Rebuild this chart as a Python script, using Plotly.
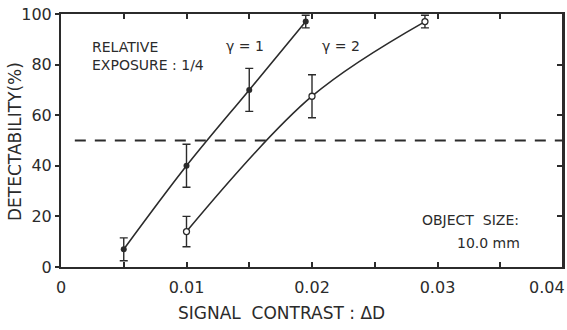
import plotly.graph_objects as go

# Measured detectability vs. signal contrast (relative exposure 1/4, object 10.0 mm)
gamma1_contrast = [0.005, 0.010, 0.015, 0.0195]
gamma1_detect = [7, 40, 70, 97]
gamma1_err = [4.5, 8.5, 8.5, 2.5]

gamma2_contrast = [0.010, 0.020, 0.029]
gamma2_detect = [14, 67.5, 97]
gamma2_err = [6, 8.5, 2.5]

threshold = 50
x_tick_vals = [0, 0.005, 0.01, 0.015, 0.02, 0.025, 0.03, 0.035, 0.04]
x_tick_text = ["0", "", "0.01", "", "0.02", "", "0.03", "", ""]
x_last_label = "0.04"   # drawn flush with the right edge of the page
y_tick_vals = [0, 20, 40, 60, 80, 100]
y_tick_text = ["0", "20", "40", "60", "80", "100"]

INK = "#2b2b2b"
FONT = "DejaVu Sans"
X_RANGE = [0, 0.04]
L, R, T, B = 61, 4, 14, 63
W, H = 567, 330

fig = go.Figure()

# 50 % detection threshold
fig.add_trace(go.Scatter(
    x=[0.0011, 0.04], y=[threshold, threshold], mode="lines",
    line=dict(color=INK, width=1.8, dash="11px,9px"), hoverinfo="skip",
))

fig.add_trace(go.Scatter(
    x=gamma1_contrast, y=gamma1_detect, mode="lines+markers",
    line=dict(color=INK, width=1.6, shape="spline", smoothing=1.0),
    marker=dict(color=INK, size=6, symbol="circle"),
    error_y=dict(type="data", array=gamma1_err, color=INK, thickness=1.4, width=4),
))

fig.add_trace(go.Scatter(
    x=gamma2_contrast, y=gamma2_detect, mode="lines+markers",
    line=dict(color=INK, width=1.6, shape="spline", smoothing=1.0),
    marker=dict(color="white", size=6, symbol="circle",
                line=dict(color=INK, width=1.3)),
    error_y=dict(type="data", array=gamma2_err, color=INK, thickness=1.4, width=4),
))

# invisible point so the right-hand tick axis is rendered
fig.add_trace(go.Scatter(x=[0.02], y=[50], xaxis="x", yaxis="y2", mode="markers",
                         marker=dict(size=1, opacity=0), hoverinfo="skip"))

axis_common = dict(showgrid=False, zeroline=False, showline=True, automargin=False,
                   linecolor=INK, linewidth=2, tickcolor=INK, tickwidth=1.5)

fig.update_layout(
    width=W, height=H,
    margin=dict(l=L, r=R, t=T, b=B, autoexpand=False),
    paper_bgcolor="white", plot_bgcolor="white",
    showlegend=False,
    font=dict(family=FONT, color=INK),
    xaxis=dict(range=X_RANGE, tickvals=x_tick_vals, ticktext=x_tick_text,
               ticks="inside", ticklen=5, tickfont=dict(size=16),
               ticklabelstandoff=5, mirror="ticks", **axis_common),
    yaxis=dict(range=[0, 100], tickvals=y_tick_vals, ticktext=y_tick_text,
               ticks="outside", ticklen=4, tickfont=dict(size=16),
               mirror=True, **axis_common),
    yaxis2=dict(range=[0, 100], overlaying="y", side="right", anchor="free", position=1,
                tickvals=y_tick_vals[1:-1], showticklabels=False,
                ticks="inside", ticklen=5, **axis_common),
)

plot_w, plot_h = W - L - R, H - T - B

# last x tick label, kept inside the page
fig.add_annotation(x=1, y=(H - B - 287) / plot_h, xref="paper", yref="paper",
                   text=x_last_label, showarrow=False, xanchor="right", yanchor="middle",
                   xshift=R, font=dict(size=16, color=INK, family=FONT))

# axis titles, positioned in pixels relative to the plotting area
fig.add_annotation(x=(281 - L) / plot_w, y=(H - B - 313) / plot_h, xref="paper", yref="paper",
                   text="SIGNAL  CONTRAST : ΔD", showarrow=False,
                   xanchor="center", yanchor="middle",
                   font=dict(size=17, color=INK, family=FONT))
fig.add_annotation(x=(15 - L) / plot_w, y=(H - B - 142) / plot_h, xref="paper", yref="paper",
                   text="DETECTABILITY(%)", textangle=-90, showarrow=False,
                   xanchor="center", yanchor="middle",
                   font=dict(size=17, color=INK, family=FONT))

notes = [
    (0.0023, 87, "RELATIVE"),
    (0.0023, 80, "EXPOSURE : 1/4"),
    (0.0130, 87.5, "γ = 1"),
    (0.0206, 87.5, "γ = 2"),
    (0.0286, 18.6, "OBJECT  SIZE:"),
    (0.0314, 9.5, "10.0 mm"),
]
for x, y, t in notes:
    fig.add_annotation(x=x, y=y, text=t, showarrow=False, xanchor="left",
                       yanchor="middle", font=dict(size=14, color=INK, family=FONT))

fig.write_html("out.html")
